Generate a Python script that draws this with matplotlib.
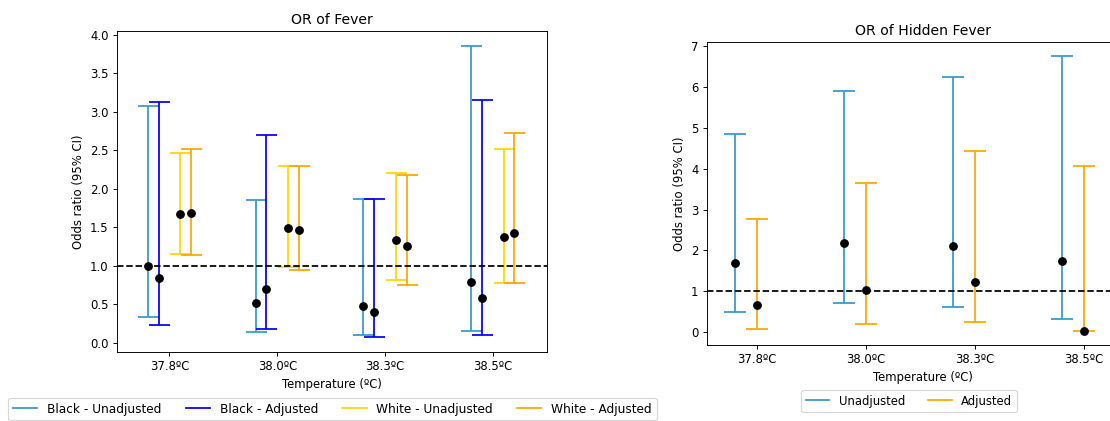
import numpy as np
import matplotlib
matplotlib.use("Agg")
import matplotlib.pyplot as plt
from matplotlib.lines import Line2D

# ------------------------------
# Data
# ------------------------------
temps = ["37.8ºC", "38.0ºC", "38.3ºC", "38.5ºC"]

# OR of Fever: point estimate, lower CI, upper CI
black_unadj_or = [1.00, 0.515, 0.472, 0.788]
black_unadj_lo = [0.333, 0.134, 0.104, 0.147]
black_unadj_hi = [3.07, 1.86, 1.87, 3.86]

black_adj_or = [0.844, 0.697, 0.403, 0.584]
black_adj_lo = [0.229, 0.173, 0.069, 0.095]
black_adj_hi = [3.126, 2.70, 1.87, 3.147]

white_unadj_or = [1.675, 1.485, 1.329, 1.368]
white_unadj_lo = [1.15, 0.978, 0.818, 0.77]
white_unadj_hi = [2.47, 2.29, 2.21, 2.52]

white_adj_or = [1.684, 1.463, 1.26, 1.43]
white_adj_lo = [1.14, 0.948, 0.745, 0.77]
white_adj_hi = [2.52, 2.29, 2.18, 2.72]

# OR of Hidden Fever
hidden_unadj_or = [1.695, 2.176, 2.11, 1.75]
hidden_unadj_lo = [0.497, 0.70, 0.603, 0.318]
hidden_unadj_hi = [4.86, 5.90, 6.24, 6.77]

hidden_adj_or = [0.652, 1.035, 1.23, 0.016]
hidden_adj_lo = [0.073, 0.196, 0.236, 0.016]
hidden_adj_hi = [2.77, 3.65, 4.43, 4.07]

C_LIGHT = "#3399cc"
C_BLUE = "blue"
C_GOLD = "gold"
C_ORANGE = "orange"


def draw_ci(ax, x, est, lo, hi, color, capsize):
    est = np.array(est)
    yerr = [est - np.array(lo), np.array(hi) - est]
    ax.errorbar(x, est, yerr=yerr, fmt="o", color="black", ecolor=color,
                elinewidth=1.5, capthick=1.5, capsize=capsize, markersize=6.5)


# reference looks like a downscaled render, so use a lower dpi
DPI = 84
fig = plt.figure(figsize=(1110 / DPI, 421 / DPI), dpi=DPI)
pos = np.arange(len(temps))

# ---------- Left: OR of Fever ----------
ax1 = fig.add_axes([0.1051, 0.1639, 0.3874, 0.7625])
draw_ci(ax1, pos - 0.2, black_unadj_or, black_unadj_lo, black_unadj_hi, C_LIGHT, 9)
draw_ci(ax1, pos - 0.1, black_adj_or, black_adj_lo, black_adj_hi, C_BLUE, 9)
draw_ci(ax1, pos + 0.1, white_unadj_or, white_unadj_lo, white_unadj_hi, C_GOLD, 9)
draw_ci(ax1, pos + 0.2, white_adj_or, white_adj_lo, white_adj_hi, C_ORANGE, 9)
ax1.axhline(1, color="black", linestyle="--", linewidth=1.5)
ax1.set_xlim(-0.49, 3.5)
ax1.set_xticks(pos)
ax1.set_xticklabels(temps)
ax1.set_xlabel("Temperature (ºC)")
ax1.set_ylabel("Odds ratio (95% CI)")
ax1.set_title("OR of Fever")

handles1 = [Line2D([], [], color=c, linewidth=1.5) for c in (C_LIGHT, C_BLUE, C_GOLD, C_ORANGE)]
fig.legend(handles1, ["Black - Unadjusted", "Black - Adjusted",
                      "White - Unadjusted", "White - Adjusted"],
           loc="center", bbox_to_anchor=(0.2995, 0.0285), ncol=4, fontsize=10.4)

# ---------- Right: OR of Hidden Fever ----------
ax2 = fig.add_axes([0.6367, 0.1805, 0.389, 0.7197])
draw_ci(ax2, pos - 0.2, hidden_unadj_or, hidden_unadj_lo, hidden_unadj_hi, C_LIGHT, 9.5)
draw_ci(ax2, pos, hidden_adj_or, hidden_adj_lo, hidden_adj_hi, C_ORANGE, 9.5)
ax2.axhline(1, color="black", linestyle="--", linewidth=1.5)
ax2.set_xlim(-0.46, 3.5)
ax2.set_xticks(pos)
ax2.set_xticklabels(temps)
ax2.set_xlabel("Temperature (ºC)")
ax2.set_ylabel("Odds ratio (95% CI)")
ax2.set_title("OR of Hidden Fever")

handles2 = [Line2D([], [], color=c, linewidth=1.5) for c in (C_LIGHT, C_ORANGE)]
fig.legend(handles2, ["Unadjusted", "Adjusted"],
           loc="center", bbox_to_anchor=(0.819, 0.0475), ncol=2)

fig.savefig("out.png", dpi=DPI)
